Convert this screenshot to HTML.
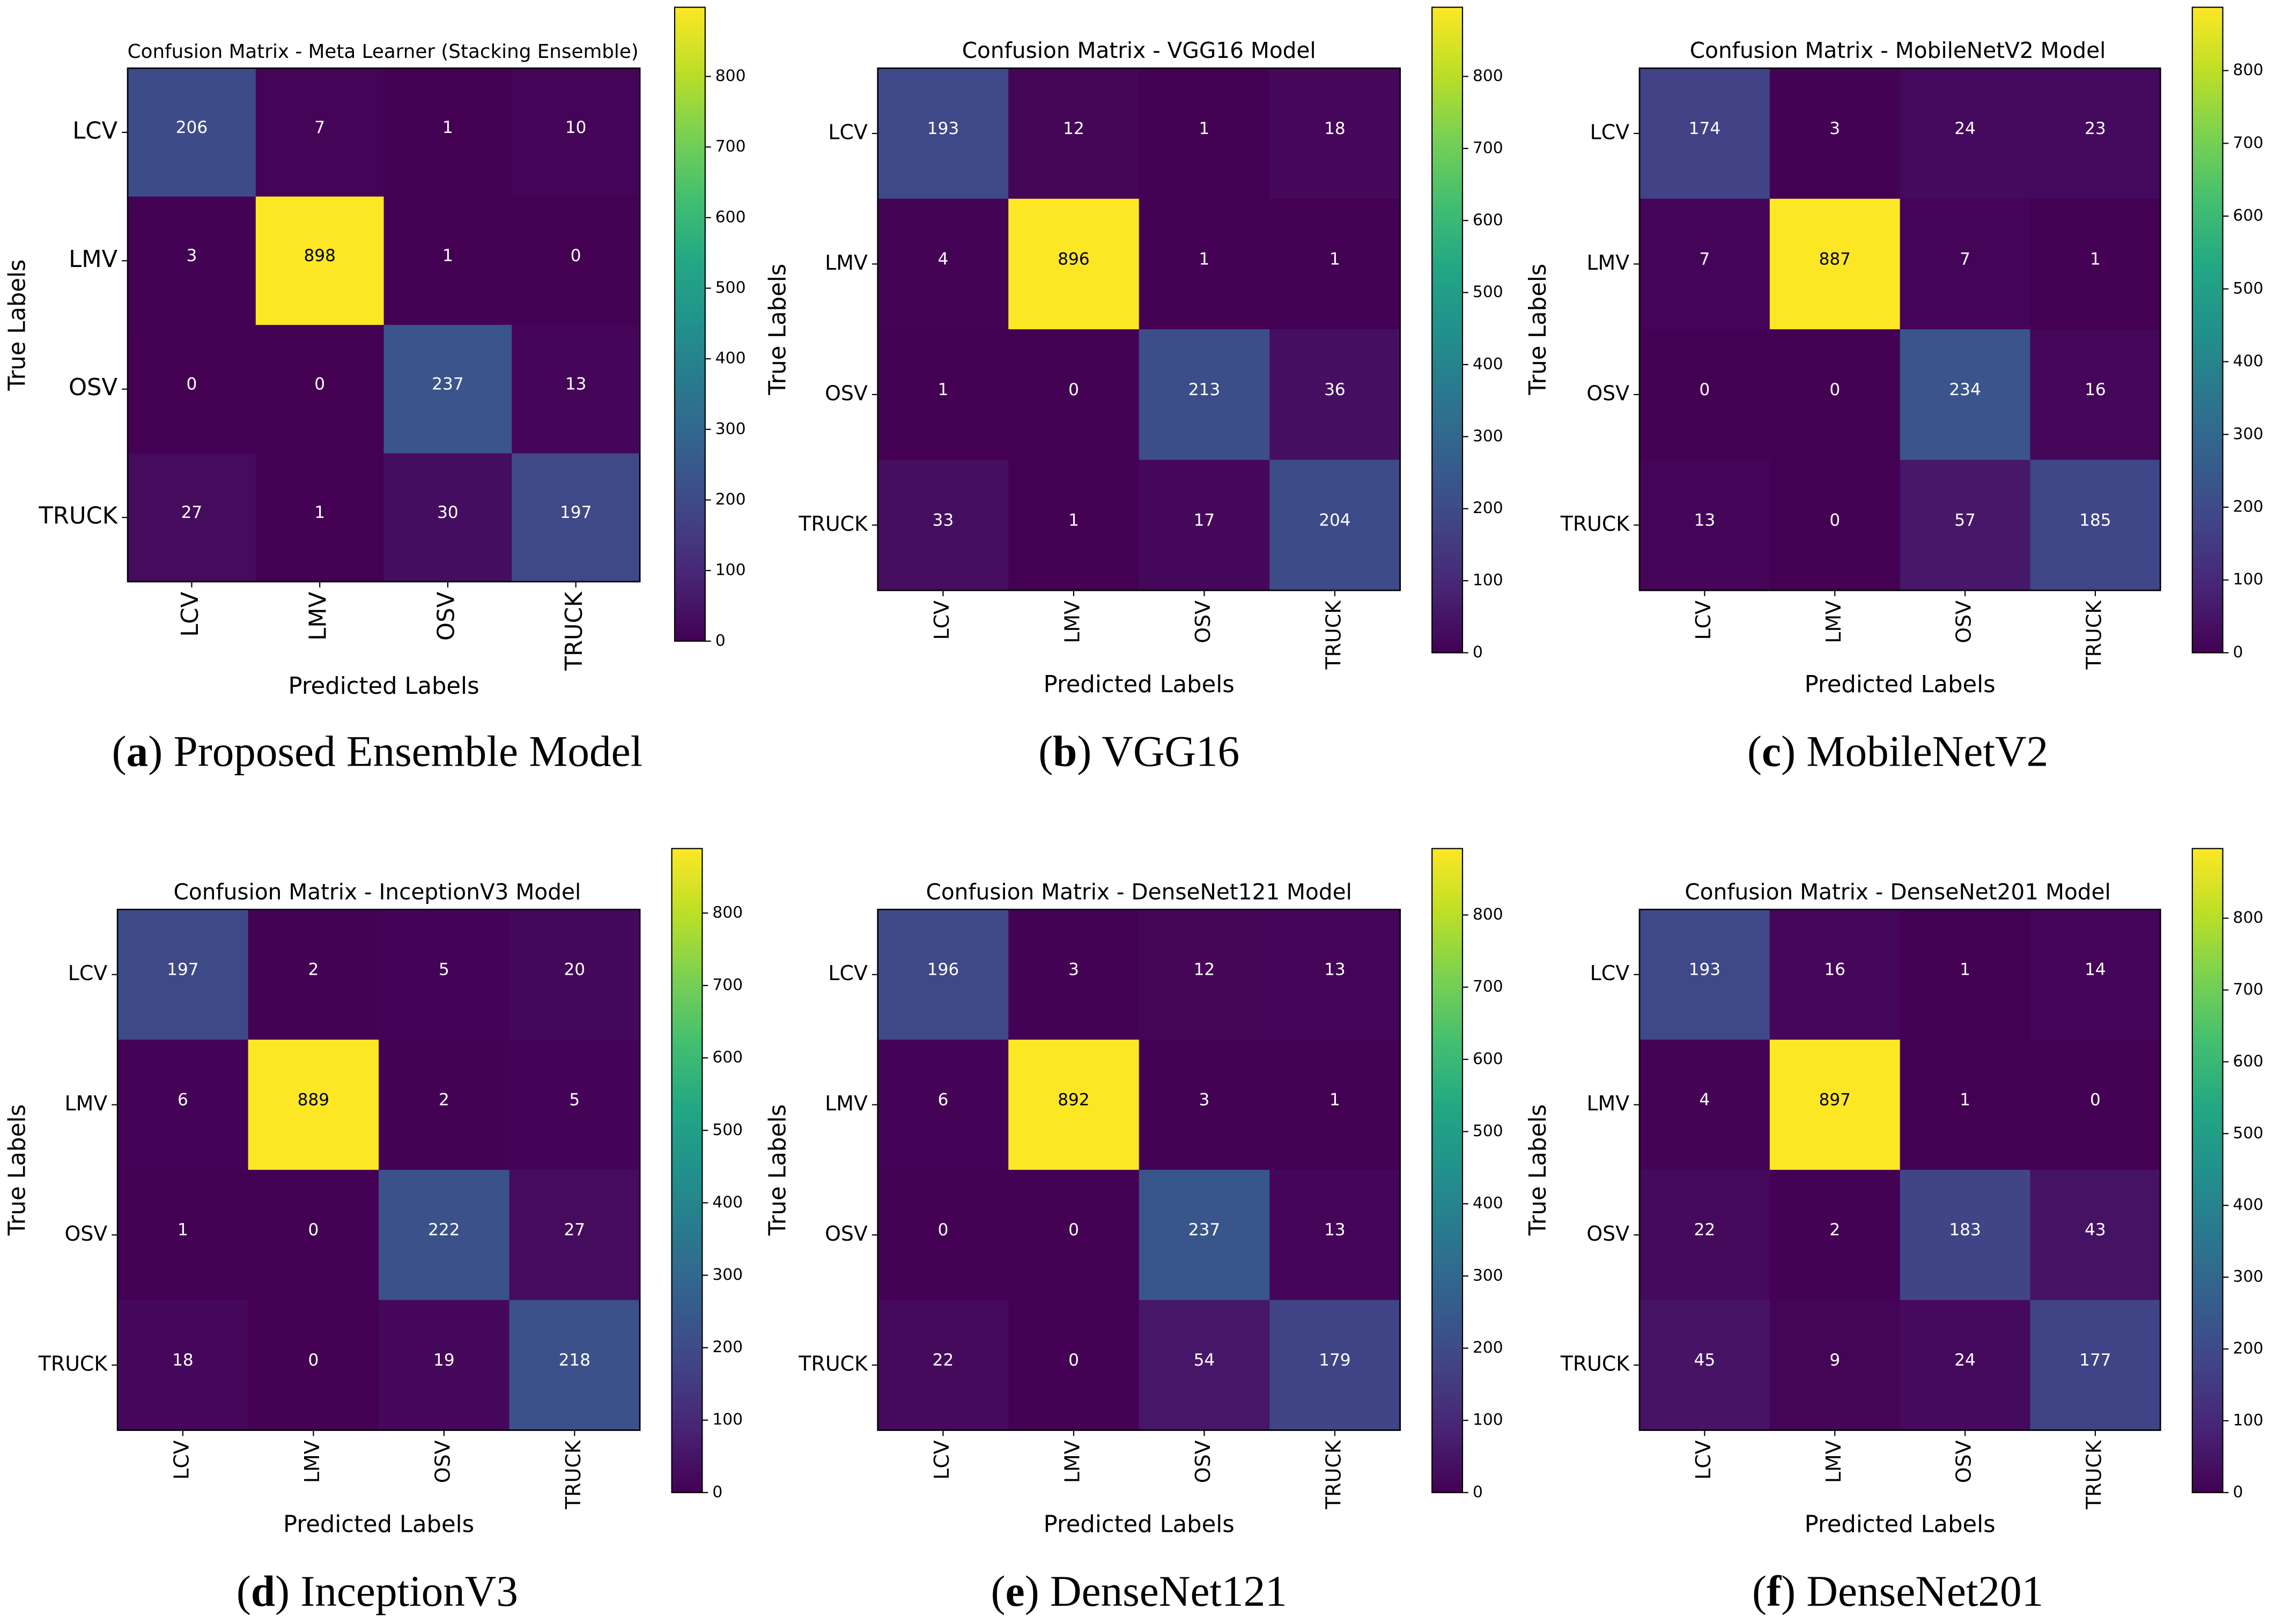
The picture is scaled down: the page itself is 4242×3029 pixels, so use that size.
<!DOCTYPE html>
<html><head><meta charset="utf-8"><style>
html,body{margin:0;padding:0;background:#fff;}
svg{display:block;}
text{font-family:"DejaVu Sans","Liberation Sans",sans-serif;}
.cap{font-family:"Liberation Serif",serif;}
</style></head><body>
<svg id="fig" width="4242" height="3029" viewBox="0 0 1568 1119.6" xmlns="http://www.w3.org/2000/svg">
<defs>
<linearGradient id="vir" x1="0" y1="1" x2="0" y2="0">
<stop offset="0" stop-color="#440154"/><stop offset="0.1" stop-color="#482475"/><stop offset="0.2" stop-color="#414487"/><stop offset="0.3" stop-color="#355f8d"/><stop offset="0.4" stop-color="#2a788e"/><stop offset="0.5" stop-color="#21918c"/><stop offset="0.6" stop-color="#22a884"/><stop offset="0.7" stop-color="#44bf70"/><stop offset="0.8" stop-color="#7ad151"/><stop offset="0.9" stop-color="#bddf26"/><stop offset="1" stop-color="#fde725"/>
</linearGradient>
</defs>
</svg>
<script>
const classLabels = ["LCV","LMV","OSV","TRUCK"];
const cbTicks = [0,100,200,300,400,500,600,700,800];
const titles = ["Confusion Matrix - Meta Learner (Stacking Ensemble)","Confusion Matrix - VGG16 Model","Confusion Matrix - MobileNetV2 Model","Confusion Matrix - InceptionV3 Model","Confusion Matrix - DenseNet121 Model","Confusion Matrix - DenseNet201 Model"];
const captionLetters = ["a","b","c","d","e","f"];
const captionNames = ["Proposed Ensemble Model","VGG16","MobileNetV2","InceptionV3","DenseNet121","DenseNet201"];
const cmEnsemble = [[206,7,1,10],[3,898,1,0],[0,0,237,13],[27,1,30,197]];
const cmVGG16 = [[193,12,1,18],[4,896,1,1],[1,0,213,36],[33,1,17,204]];
const cmMobileNetV2 = [[174,3,24,23],[7,887,7,1],[0,0,234,16],[13,0,57,185]];
const cmInceptionV3 = [[197,2,5,20],[6,889,2,5],[1,0,222,27],[18,0,19,218]];
const cmDenseNet121 = [[196,3,12,13],[6,892,3,1],[0,0,237,13],[22,0,54,179]];
const cmDenseNet201 = [[193,16,1,14],[4,897,1,0],[22,2,183,43],[45,9,24,177]];
const matrices = [cmEnsemble,cmVGG16,cmMobileNetV2,cmInceptionV3,cmDenseNet121,cmDenseNet201];

const layouts = [
 {px:88,py:47,pw:353,ph:354,cbx:465,cby:5,cbh:437,tick:16,title:13.2,ylab:13,xlab:474,capx:260,capy:521,titleX:264},
 {px:605,py:47,pw:360,ph:360,cbx:987,cby:5,cbh:445,tick:14,title:15,ylab:537,xlab:473,capx:785,capy:521,titleX:785},
 {px:1130,py:47,pw:359,ph:360,cbx:1511,cby:5,cbh:445,tick:14,title:15,ylab:1061,xlab:473,capx:1308,capy:521,titleX:1308},
 {px:81,py:627,pw:360,ph:359,cbx:463,cby:585,cbh:444,tick:14,title:15,ylab:13,xlab:1052,capx:260,capy:1100,titleX:260},
 {px:605,py:627,pw:360,ph:359,cbx:987,cby:585,cbh:444,tick:14,title:15,ylab:537,xlab:1052,capx:785,capy:1100,titleX:785},
 {px:1130,py:627,pw:359,ph:359,cbx:1511,cby:585,cbh:444,tick:14,title:15,ylab:1061,xlab:1052,capx:1308,capy:1100,titleX:1308}
];
const stops=["#440154","#482475","#414487","#355f8d","#2a788e","#21918c","#22a884","#44bf70","#7ad151","#bddf26","#fde725"];
function hex(c){return [1,3,5].map(i=>parseInt(c.substr(i,2),16));}
function viridis(t){t=Math.max(0,Math.min(1,t));const f=t*10,i=Math.min(9,Math.floor(f)),r=f-i;const a=hex(stops[i]),b=hex(stops[i+1]);return "rgb("+a.map((v,k)=>Math.round(v+(b[k]-v)*r)).join(",")+")";}
const NS="http://www.w3.org/2000/svg";
const svg=document.getElementById('fig');
function mk(tag,attrs,parent){const e=document.createElementNS(NS,tag);for(const k in attrs)e.setAttribute(k,attrs[k]);(parent||svg).appendChild(e);return e;}

matrices.forEach((cm,p)=>{
 const L=layouts[p];
 const g=mk('g',{});
 
 
 const vmax=Math.max(...cm.flat());
 const n=classLabels.length;
 const cw=L.pw/n, ch=L.ph/n;
 const xs=j=>L.px+cw*j, ys=i=>L.py+ch*i;
 cm.forEach((row,i)=>row.forEach((v,j)=>{
  const r=mk('rect',{x:xs(j),y:ys(i),width:cw+0.3,height:ch+0.3,fill:viridis(v/vmax)},g);
  
  
  const t=mk('text',{x:xs(j)+cw/2,y:ys(i)+ch/2-3,'font-size':11.5,'text-anchor':'middle','dominant-baseline':'middle',fill:v>vmax/2?'#000':'#fff'},g);
  t.textContent=v;
  
  
 }));
 const fr=mk('rect',{x:L.px,y:L.py,width:L.pw,height:L.ph,fill:'none',stroke:'#000','stroke-width':1},g);
 
 
 classLabels.forEach((lab,k)=>{
  const cy=ys(k)+ch/2;
  mk('line',{x1:L.px-4,y1:cy,x2:L.px,y2:cy,stroke:'#000','stroke-width':0.8},g);
  const yt=mk('text',{x:L.px-7,y:cy,'font-size':L.tick,'text-anchor':'end','dominant-baseline':'middle',fill:'#000'},g);
  yt.textContent=lab;
  
  
  const cx=xs(k)+cw/2;
  mk('line',{x1:cx,y1:L.py+L.ph,x2:cx,y2:L.py+L.ph+4,stroke:'#000','stroke-width':0.8},g);
  const xt=mk('text',{x:0,y:0,'font-size':L.tick,'text-anchor':'end','dominant-baseline':'middle',fill:'#000',transform:'translate('+cx+','+(L.py+L.ph+7)+') rotate(-90)'},g);
  xt.textContent=lab;
  
  
 });
 const tt=mk('text',{x:L.titleX,y:L.py-7,'font-size':L.title,'text-anchor':'middle',fill:'#000'},g);
 tt.textContent=titles[p];
 
 
 const yl=mk('text',{x:0,y:0,'font-size':16,'text-anchor':'middle','dominant-baseline':'middle',fill:'#000',transform:'translate('+L.ylab+','+(L.py+L.ph/2)+') rotate(-90)'},g);
 yl.textContent='True Labels';
 
 
 const xl=mk('text',{x:L.px+L.pw/2,y:L.xlab,'font-size':16,'text-anchor':'middle','dominant-baseline':'middle',fill:'#000'},g);
 xl.textContent='Predicted Labels';
 
 
 const cb=mk('rect',{x:L.cbx,y:L.cby,width:21,height:L.cbh,fill:'url(#vir)',stroke:'#000','stroke-width':0.8},g);
 
 
 const cbY=v=>L.cby+L.cbh-(v/vmax)*L.cbh;
 cbTicks.forEach(v=>{
  const y=cbY(v);
  mk('line',{x1:L.cbx+21,y1:y,x2:L.cbx+25,y2:y,stroke:'#000','stroke-width':0.8},g);
  const ct=mk('text',{x:L.cbx+28,y:y,'font-size':11,'dominant-baseline':'middle',fill:'#000'},g);
  ct.textContent=v;
  
  
 });
 const cap=mk('text',{x:L.capx,y:L.capy,'font-size':30,'text-anchor':'middle','dominant-baseline':'middle',fill:'#000','class':'cap'},g);
 
 
 const s1=mk('tspan',{},cap);s1.textContent='(';
 const s2=mk('tspan',{'font-weight':'bold'},cap);s2.textContent=captionLetters[p];
 const s3=mk('tspan',{},cap);s3.textContent=') '+captionNames[p];
});
</script>
</body></html>
